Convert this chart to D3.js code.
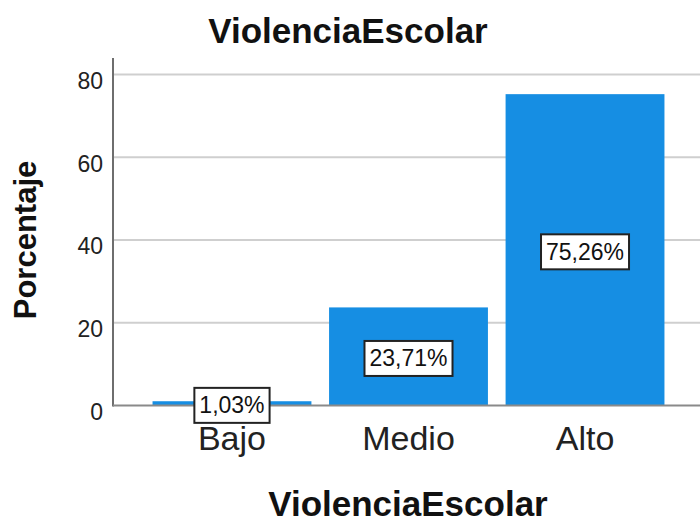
<!DOCTYPE html>
<html>
<head>
<meta charset="utf-8">
<script src="https://cdn.jsdelivr.net/npm/d3@7"></script>
<style>
  html, body { margin: 0; padding: 0; background: #fff; }
  svg { display: block; font-family: "Liberation Sans", Arial, sans-serif; }
</style>
</head>
<body>
<svg id="chart" width="700" height="522"></svg>
<script>
const categories = ["Bajo", "Medio", "Alto"];
const percentages = [1.03, 23.71, 75.26];
const yTicks = [0, 20, 40, 60, 80];
const chartTitle = "ViolenciaEscolar";
const xTitle = "ViolenciaEscolar";
const yTitle = "Porcentaje";

const svg = d3.select("#chart");
const plotLeft = 113, plotRight = 700, plotTop = 58, plotBottom = 405.5;

const x = d3.scaleBand().domain(categories).range([plotLeft, 704])
  .paddingInner(0.1).paddingOuter(0.224);
const y = d3.scaleLinear().domain([0, 84]).range([plotBottom, plotTop]);

// gridlines
svg.append("g").selectAll("line").data(yTicks.filter(d => d > 0)).join("line")
  .attr("x1", plotLeft).attr("x2", plotRight)
  .attr("y1", d => y(d)).attr("y2", d => y(d))
  .attr("stroke", "#cfcfcf").attr("stroke-width", 2);

// bars
svg.append("g").selectAll("rect").data(categories).join("rect")
  .attr("x", d => x(d))
  .attr("width", x.bandwidth())
  .attr("y", (d, i) => y(percentages[i]))
  .attr("height", (d, i) => y(0) - y(percentages[i]))
  .attr("fill", "#168ee3");

// y axis
const yAxis = d3.axisLeft(y).tickValues(yTicks).tickSize(0).tickPadding(10);
const yg = svg.append("g").attr("transform", `translate(${plotLeft},0)`).call(yAxis);
yg.select(".domain").remove();
yg.selectAll("text").attr("font-size", 23).attr("fill", "#222")
  .attr("font-family", "Liberation Sans, Arial, sans-serif").attr("dy", "0.6em");

// x axis
const xAxis = d3.axisBottom(x).tickSize(0).tickPadding(20);
const xg = svg.append("g").attr("transform", `translate(0,${plotBottom})`).call(xAxis);
xg.select(".domain").remove();
xg.selectAll("text").attr("font-size", 34).attr("fill", "#222")
  .attr("font-family", "Liberation Sans, Arial, sans-serif");

// axis lines
svg.append("line").attr("x1", plotLeft).attr("x2", plotLeft).attr("y1", plotTop).attr("y2", plotBottom + 1)
  .attr("stroke", "#6e6e6e").attr("stroke-width", 2);
svg.append("line").attr("x1", plotLeft).attr("x2", plotRight).attr("y1", plotBottom).attr("y2", plotBottom)
  .attr("stroke", "#8a8a8a").attr("stroke-width", 2);

// value labels
const fmt = v => v.toFixed(2).replace(".", ",") + "%";
const lg = svg.append("g");
categories.forEach((c, i) => {
  const cx = x(c) + x.bandwidth() / 2;
  const cy = (y(percentages[i]) + y(0)) / 2 + 2;
  const g = lg.append("g");
  const rect = g.append("rect");
  const t = g.append("text").attr("x", cx).attr("y", cy)
    .attr("text-anchor", "middle").attr("dominant-baseline", "central")
    .attr("font-size", 23).attr("fill", "#111").text(fmt(percentages[i]));
  const bb = t.node().getBBox();
  rect.attr("x", bb.x - 5).attr("y", cy - 17.5).attr("width", bb.width + 10).attr("height", 35)
    .attr("fill", "#fff").attr("stroke", "#222").attr("stroke-width", 2);
});

// titles
svg.append("text").attr("x", 348).attr("y", 43).attr("text-anchor", "middle")
  .attr("font-size", 35).attr("font-weight", "bold").attr("fill", "#111").text(chartTitle);
svg.append("text").attr("x", 408).attr("y", 516).attr("text-anchor", "middle")
  .attr("font-size", 35).attr("font-weight", "bold").attr("fill", "#111").text(xTitle);
svg.append("text").attr("transform", "translate(36,240) rotate(-90)").attr("text-anchor", "middle")
  .attr("font-size", 31).attr("font-weight", "bold").attr("fill", "#111").text(yTitle);
</script>
</body>
</html>
